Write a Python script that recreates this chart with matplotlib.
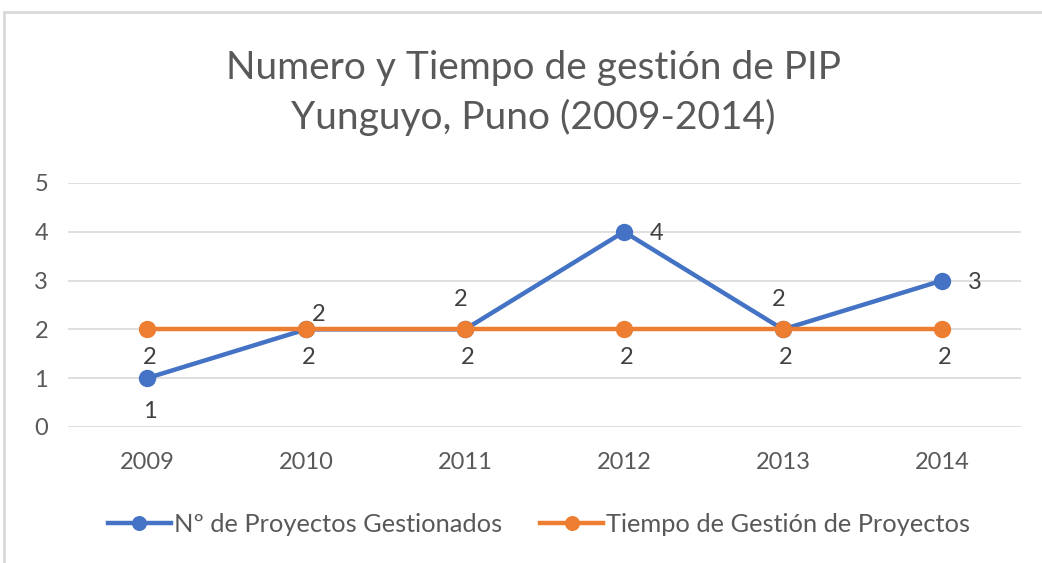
import matplotlib.pyplot as plt
from matplotlib.patches import Rectangle

anios = ['2009', '2010', '2011', '2012', '2013', '2014']
proyectos = [1, 2, 2, 4, 2, 3]
tiempo = [2, 2, 2, 2, 2, 2]
pos_proyectos = ['below_far', 'upright', 'above', 'right', 'above', 'right']
pos_tiempo = ['below', 'below', 'below', 'below', 'below', 'below']

azul = '#4472C4'
naranja = '#ED7D31'
gris = '#595959'

plt.rcParams['font.family'] = ['Lato', 'DejaVu Sans']

offsets = {'below': (3, -28), 'below_far': (3, -33), 'above': (-4, 30),
           'right': (33, -2), 'upright': (13, 15)}

fig = plt.figure(figsize=(10.42, 5.63), dpi=100)
fig.patches.append(Rectangle((0.004, -0.1), 1.2, 1.078, transform=fig.transFigure,
                             fill=False, edgecolor='#d9d9d9', linewidth=2))
ax = fig.add_axes([0.0648, 0.2416, 0.9155, 0.4334])

x = list(range(len(anios)))
ax.plot(x, proyectos, color=azul, lw=3.2, marker='o', ms=11.5,
        label='Nº de Proyectos Gestionados', zorder=3)
ax.plot(x, tiempo, color=naranja, lw=3.2, marker='o', ms=11.5,
        label='Tiempo de Gestión de Proyectos', zorder=4)

for xi, v, p in zip(x, proyectos, pos_proyectos):
    ax.annotate(str(v), (xi, v), xytext=offsets[p], textcoords='offset pixels',
                ha='center', va='center', fontsize=17, color='#404040')
for xi, v, p in zip(x, tiempo, pos_tiempo):
    ax.annotate(str(v), (xi, v), xytext=offsets[p], textcoords='offset pixels',
                ha='center', va='center', fontsize=17, color='#404040')

ax.set_xlim(-0.5, len(anios) - 0.5)
ax.set_ylim(0, 5)
ax.set_yticks(range(6))
ax.set_xticks(x)
ax.set_xticklabels(anios)
ax.grid(axis='y', color='#d9d9d9', lw=1.2)
ax.set_axisbelow(True)
for s in ax.spines.values():
    s.set_visible(False)
ax.tick_params(length=0, labelsize=17, colors=gris)
ax.tick_params(axis='y', pad=14)
ax.tick_params(axis='x', pad=18)

fig.text(0.512, 0.835, 'Numero y Tiempo de gestión de PIP\nYunguyo, Puno (2009-2014)',
         ha='center', va='center', fontsize=28, color=gris, linespacing=1.4)

fig.legend(loc='center', bbox_to_anchor=(0.517, 0.068), ncol=2, frameon=False,
           fontsize=18.3, labelcolor=gris, handlelength=2.5, handletextpad=0.1,
           columnspacing=1.5, markerscale=0.85)

fig.savefig('out.png', dpi=100)
